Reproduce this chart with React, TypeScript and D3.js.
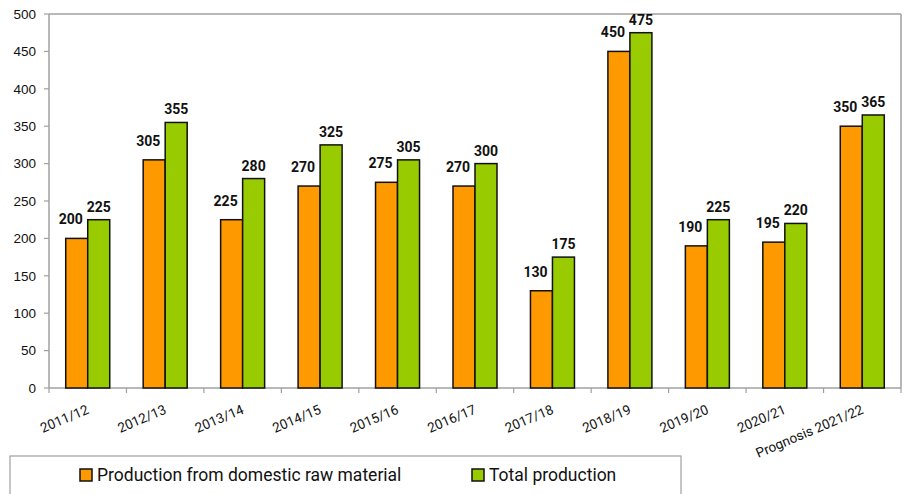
import React from "react";
import * as d3 from "d3";

const categories = ["2011/12","2012/13","2013/14","2014/15","2015/16","2016/17","2017/18","2018/19","2019/20","2020/21","Prognosis 2021/22"];
const domestic = [200,305,225,270,275,270,130,450,190,195,350];
const total = [225,355,280,325,305,300,175,475,225,220,365];
const yTicks = [0,50,100,150,200,250,300,350,400,450,500];
const seriesNames = ["Production from domestic raw material","Total production"];
const colors = ["#FF9900","#99CC00"];

export default function App() {
  const W = 908, H = 494;
  const left = 49, right = 901, top = 14, bottom = 388;
  const x = d3.scaleBand<string>().domain(categories).range([left, right]).paddingInner(0).paddingOuter(0);
  const y = d3.scaleLinear().domain([0, 500]).range([bottom, top]);
  const bw = 22;
  const gray = "#a0a0a0";
  const series = [domestic, total];
  return (
    <svg width={W} height={H} style={{position:"absolute", left:0, top:0, display:"block", background:"#fff"}}>
      <line x1={left} y1={top} x2={right} y2={top} stroke={gray} strokeWidth={1.5}/>
      <line x1={right} y1={top} x2={right} y2={bottom} stroke={gray} strokeWidth={1.5}/>
      <line x1={left} y1={top} x2={left} y2={bottom} stroke={gray} strokeWidth={1.5}/>
      <line x1={left} y1={bottom} x2={right} y2={bottom} stroke={gray} strokeWidth={1.5}/>
      {yTicks.map(t => (
        <g key={t}>
          <line x1={left-5} x2={left} y1={y(t)} y2={y(t)} stroke={gray} strokeWidth={1.2}/>
          <text x={36} y={y(t)} dy="0.35em" textAnchor="end" fontFamily="Liberation Sans, Arial, sans-serif" fontSize={13.5} fill="#111">{t}</text>
        </g>
      ))}
      {categories.map((c, i) => (
        <line key={"xt"+i} x1={x(c)!} x2={x(c)!} y1={bottom} y2={bottom+5} stroke={gray} strokeWidth={1.2}/>
      ))}
      <line x1={right} x2={right} y1={bottom} y2={bottom+5} stroke={gray} strokeWidth={1.2}/>
      {categories.map((c, i) => {
        const cx = x(c)! + x.bandwidth()/2;
        return (
          <text key={"xl"+i} transform={`translate(${cx+2},413) rotate(-23)`} textAnchor="end" fontFamily="Roboto, sans-serif" fontSize={13.5} fill="#111">{c}</text>
        );
      })}
      {categories.map((c, i) => {
        const cx = x(c)! + x.bandwidth()/2;
        return series.map((s, k) => {
          const bx = cx - bw + k*bw;
          const v = s[i];
          return (
            <g key={c+k}>
              <rect x={bx} y={y(v)} width={bw} height={bottom - y(v)} fill={colors[k]} stroke="#111" strokeWidth={1.5}/>
              <text x={bx + bw/2 + (k===0 ? -6 : 0)} y={y(v) - (k===0 ? 14 : 8)} textAnchor="middle" fontFamily="Roboto, Arial, sans-serif" fontWeight="bold" fontSize={14} fill="#111">{v}</text>
            </g>
          );
        });
      })}
      <rect x={10} y={456} width={671} height={50} fill="#fff" stroke={gray} strokeWidth={1.2}/>
      {seriesNames.map((n, k) => {
        const lx = k === 0 ? 80 : 472;
        return (
          <g key={n}>
            <rect x={lx} y={469} width={12} height={12} fill={colors[k]} stroke="#111" strokeWidth={1.5}/>
            <text x={lx+17} y={481} fontFamily="Roboto, sans-serif" fontSize={17.5} fill="#111">{n}</text>
          </g>
        );
      })}
    </svg>
  );
}
